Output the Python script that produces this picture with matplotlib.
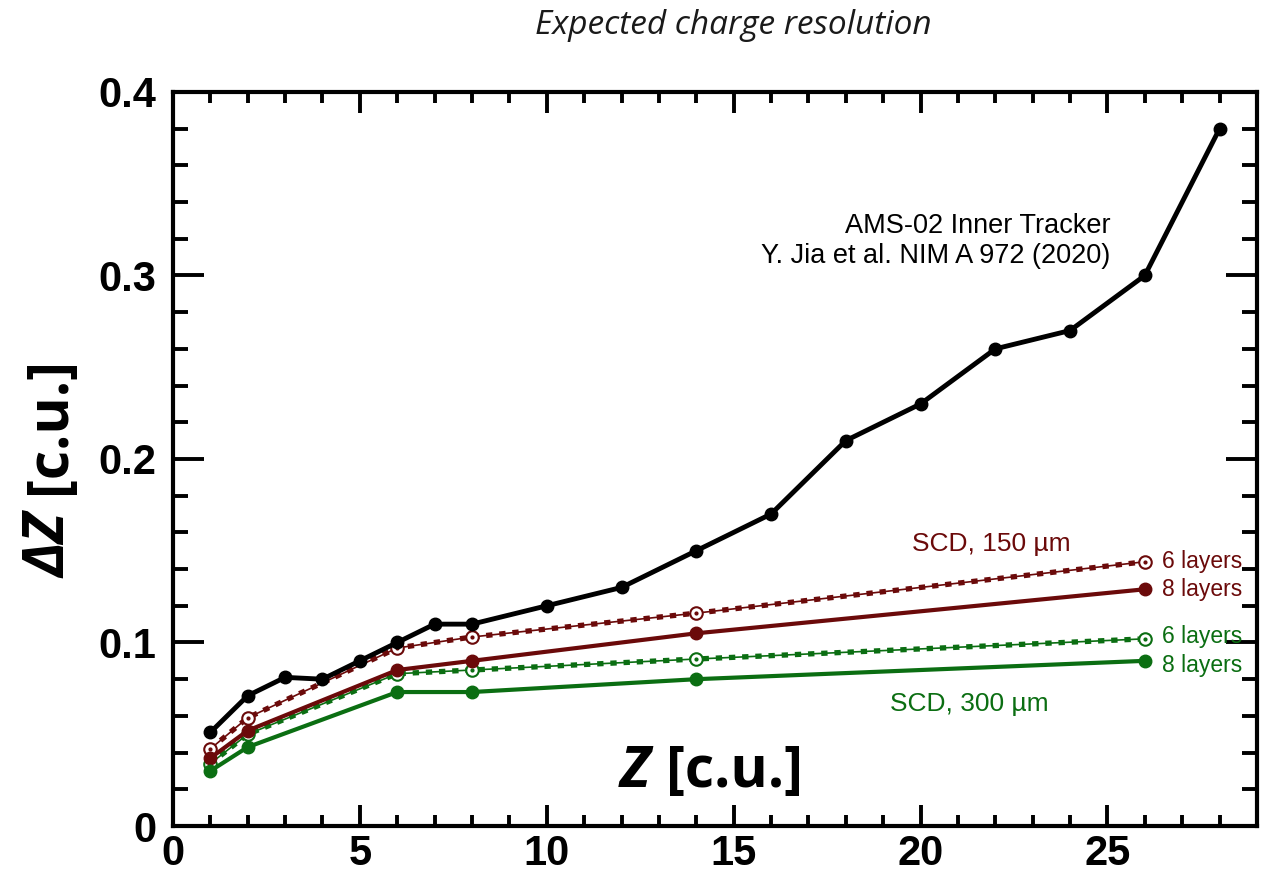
import matplotlib.pyplot as plt
from matplotlib.ticker import MultipleLocator

# AMS-02 inner tracker
z_ams = [1, 2, 3, 4, 5, 6, 7, 8, 10, 12, 14, 16, 18, 20, 22, 24, 26, 28]
dz_ams = [0.051, 0.071, 0.081, 0.080, 0.090, 0.100, 0.110, 0.110, 0.120, 0.130,
          0.150, 0.170, 0.210, 0.230, 0.260, 0.270, 0.300, 0.380]

# SCD points
z_scd = [1, 2, 6, 8, 14, 26]
dz_150_6 = [0.042, 0.059, 0.097, 0.103, 0.116, 0.144]
dz_150_8 = [0.037, 0.052, 0.085, 0.090, 0.105, 0.129]
dz_300_6 = [0.034, 0.050, 0.083, 0.085, 0.091, 0.102]
dz_300_8 = [0.030, 0.043, 0.073, 0.073, 0.080, 0.090]

red = '#6b0a0a'
green = '#0b6e12'

fig = plt.figure(figsize=(12.68, 8.75), dpi=100)
ax = fig.add_axes([0.1364, 0.056, 0.8549, 0.8389])

ax.plot(z_ams, dz_ams, color='black', lw=3.5, marker='o', ms=9, zorder=5)

# dashed "6 layers" lines: thin line + square-ish dashes
for dz, c in [(dz_150_6, red), (dz_300_6, green)]:
    ax.plot(z_scd, dz, color=c, lw=1.2, zorder=3)
    ax.plot(z_scd, dz, color=c, lw=3.8, ls=(0, (1.2, 1.3)), zorder=3)
    ax.plot(z_scd, dz, ls='none', marker='o', ms=9, mfc='white', mec=c, mew=1.5, zorder=4)
    ax.plot(z_scd, dz, ls='none', marker='o', ms=2, color=c, zorder=4)

for dz, c in [(dz_150_8, red), (dz_300_8, green)]:
    ax.plot(z_scd, dz, color=c, lw=3, marker='o', ms=9, zorder=4)

ax.set_xlim(0, 29)
ax.set_ylim(0, 0.4)
ax.xaxis.set_major_locator(MultipleLocator(5))
ax.xaxis.set_minor_locator(MultipleLocator(1))
ax.yaxis.set_major_locator(MultipleLocator(0.1))
ax.yaxis.set_minor_locator(MultipleLocator(0.02))
ax.set_yticks([0, 0.1, 0.2, 0.3, 0.4])
ax.set_yticklabels(['0', '0.1', '0.2', '0.3', '0.4'])

for s in ax.spines.values():
    s.set_linewidth(3)
ax.tick_params(which='both', direction='in', top=True, right=True, width=2.8,
               labelsize=30, pad=6)
ax.tick_params(axis='y', which='major', length=22, pad=12)
ax.tick_params(axis='y', which='minor', length=11)
ax.tick_params(axis='x', which='major', length=15)
ax.tick_params(axis='x', which='minor', length=8)
for lab in ax.get_xticklabels() + ax.get_yticklabels():
    lab.set_fontfamily('Liberation Sans')
    lab.set_fontweight('bold')

ax.text(0.865, 0.797, 'AMS-02 Inner Tracker\nY. Jia et al. NIM A 972 (2020)',
        transform=ax.transAxes, ha='right', va='center', fontsize=19.5,
        family='Liberation Sans', linespacing=1.2)

ax.text(21.9, 0.1535, 'SCD, 150 µm', color=red, fontsize=19, family='Liberation Sans',
        ha='center', va='center')
ax.text(21.3, 0.0665, 'SCD, 300 µm', color=green, fontsize=19, family='Liberation Sans',
        ha='center', va='center')
for y, c, lbl in [(0.144, red, '6 layers'), (0.129, red, '8 layers'),
                  (0.1035, green, '6 layers'), (0.0875, green, '8 layers')]:
    ax.text(26.45, y, lbl, color=c, fontsize=16.5, family='Liberation Sans',
            ha='left', va='center')

# axis labels (original uses pasted text boxes)
fig.text(650 / 1268, 1 - 772 / 875, 'Z', fontsize=41, fontweight='bold', style='italic',
         family='Open Sans', ha='right', va='center')
fig.text(666 / 1268, 1 - 772 / 875, '[c.u.]', fontsize=41, fontweight='bold',
         family='Open Sans', ha='left', va='center')
fig.text(50 / 1268, 1 - 546 / 875, 'ΔZ', fontsize=41, fontweight='bold', style='italic',
         family='Open Sans', ha='center', va='center', rotation=90)
fig.text(50 / 1268, 1 - 425 / 875, '[c.u.]', fontsize=41, fontweight='bold',
         family='Open Sans', ha='center', va='center', rotation=90)

fig.text(733 / 1268, 1 - 25 / 875, 'Expected charge resolution', fontsize=24,
         style='italic', family='Open Sans', color='#1a1a1a', ha='center', va='center')

fig.savefig('out.png', dpi=100)
